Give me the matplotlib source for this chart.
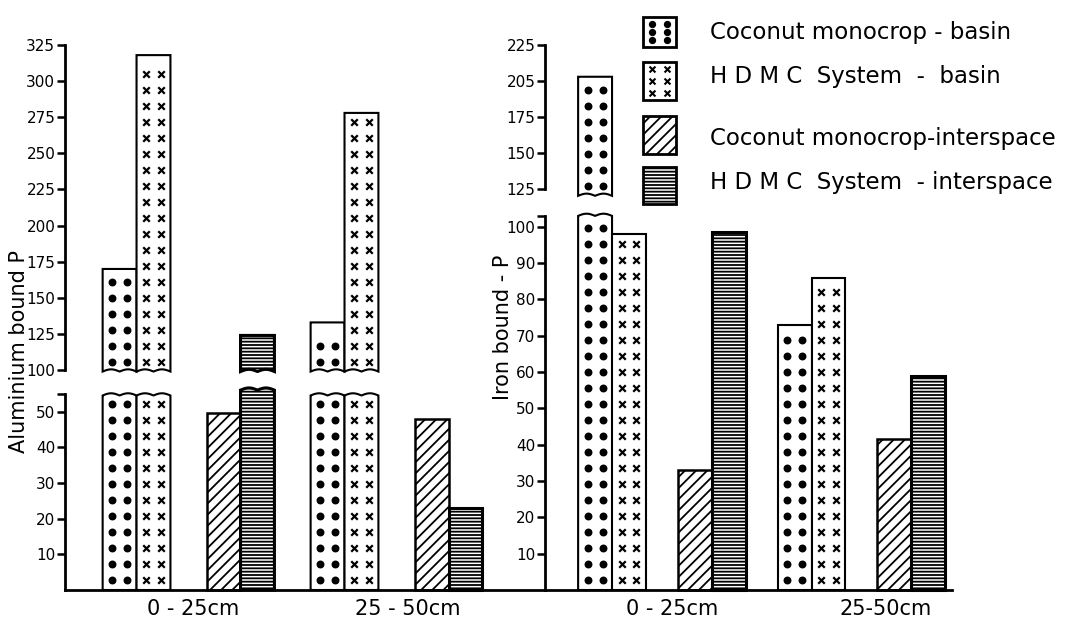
import numpy as np
import matplotlib.pyplot as plt
from matplotlib.patches import Rectangle
from matplotlib.transforms import blended_transform_factory

W, H = 1065, 642

depths_al = ['0 - 25cm', '25 - 50cm']
depths_fe = ['0 - 25cm', '25-50cm']
series = ['Coconut monocrop - basin', 'H D M C  System  -  basin',
          'Coconut monocrop-interspace', 'H D M C  System  - interspace']

# Aluminium bound P
al_coco_basin = [170, 133]
al_hdmc_basin = [318, 278]
al_coco_inter = [49.5, 48]
al_hdmc_inter = [124, 23]

# Iron bound P
fe_coco_basin = [203, 73]
fe_hdmc_basin = [98, 86]
fe_coco_inter = [33, 41.5]
fe_hdmc_inter = [98.5, 59]

al_low_ticks = [10, 20, 30, 40, 50]
al_up_ticks = [100, 125, 150, 175, 200, 225, 250, 275, 300, 325]
fe_low_ticks = [10, 20, 30, 40, 50, 60, 70, 80, 90, 100]
fe_up_ticks = [125, 150, 175, 200, 225]
fe_up_labels = ['125', '150', '175', '205', '225']

plt.rcParams['hatch.linewidth'] = 1.3
plt.rcParams['font.family'] = 'DejaVu Sans'

fig = plt.figure(figsize=(W / 100, H / 100), dpi=100)


def px_axes(x0, x1, y0, y1):
    return fig.add_axes([x0 / W, 1 - y1 / H, (x1 - x0) / W, (y1 - y0) / H])


def style(ax, ylim, bounds, ticks, labels, xlim, bottom):
    ax.set_xlim(xlim)
    ax.set_ylim(ylim)
    ax.patch.set_alpha(0)
    for s in ['top', 'right']:
        ax.spines[s].set_visible(False)
    ax.spines['bottom'].set_visible(bottom)
    ax.spines['bottom'].set_linewidth(2)
    ax.spines['left'].set_linewidth(2)
    ax.spines['left'].set_bounds(*bounds)
    ax.set_yticks(ticks)
    ax.set_yticklabels(labels)
    ax.set_xticks([])
    ax.tick_params(axis='y', direction='out', length=6, width=1.8, labelsize=11, pad=1)


def wavy_bar(ax, xc, w, y0, y1, upp, top_wave=False, bottom_wave=False, hatch=None, lw=1.5):
    xs = np.linspace(xc - w / 2, xc + w / 2, 80)
    wave = 2.2 * upp * np.abs(np.sin(2 * np.pi * (xs - xs[0]) / w))
    top = y1 + wave if top_wave else np.full_like(xs, y1)
    bot = y0 + wave if bottom_wave else np.full_like(xs, y0)
    px = np.concatenate([xs, xs[::-1]])
    py = np.concatenate([bot, top[::-1]])
    ax.fill(px, py, facecolor='white', edgecolor='black', lw=lw, hatch=hatch, clip_on=False, zorder=2)


def marks(ax, xc, w, y0, y1, upp, marker):
    ys = np.arange(y0 + 10 * upp, y1 - 8 * upp, 16 * upp)
    for dx in (-0.22 * w, 0.22 * w):
        if marker == 'o':
            ax.scatter(np.full_like(ys, xc + dx), ys, marker='o', s=22, color='black', zorder=3, clip_on=False)
        else:
            ax.scatter(np.full_like(ys, xc + dx), ys, marker='x', s=22, color='black', linewidths=1.6,
                       zorder=3, clip_on=False)


def panel(xpx, low_px, up_px, low_ylim, up_ylim, low_b, up_b, low_ticks, low_labels, up_ticks, up_labels,
          xlim, w, brk_low, brk_up, coco_b, hdmc_b, coco_i, hdmc_i, inter_brk_low):
    lo = px_axes(xpx[0], xpx[1], low_px[0], low_px[1])
    up = px_axes(xpx[0], xpx[1], up_px[0], up_px[1])
    style(lo, low_ylim, low_b, low_ticks, low_labels, xlim, True)
    style(up, up_ylim, up_b, up_ticks, up_labels, xlim, False)
    upp_lo = (low_ylim[1] - low_ylim[0]) / (low_px[1] - low_px[0])
    upp_up = (up_ylim[1] - up_ylim[0]) / (up_px[1] - up_px[0])
    for i in range(2):
        bc = i - 0.25
        ic = i + 0.25
        for xc, v, mk in [(bc - w / 2, coco_b[i], 'o'), (bc + w / 2, hdmc_b[i], 'x')]:
            if v > brk_up:
                wavy_bar(lo, xc, w, 0, brk_low, upp_lo, top_wave=True)
                marks(lo, xc, w, 0, brk_low, upp_lo, mk)
                wavy_bar(up, xc, w, brk_up, v, upp_up, bottom_wave=True)
                marks(up, xc, w, brk_up, v, upp_up, mk)
            else:
                wavy_bar(lo, xc, w, 0, v, upp_lo)
                marks(lo, xc, w, 0, v, upp_lo, mk)
        wavy_bar(lo, ic - w / 2, w, 0, coco_i[i], upp_lo, hatch='///', lw=1.8)
        v = hdmc_i[i]
        if v > brk_up:
            wavy_bar(lo, ic + w / 2, w, 0, inter_brk_low, upp_lo, top_wave=True, hatch='-----', lw=2.2)
            wavy_bar(up, ic + w / 2, w, brk_up, v, upp_up, bottom_wave=True, hatch='-----', lw=2.2)
        else:
            wavy_bar(lo, ic + w / 2, w, 0, v, upp_lo, hatch='-----', lw=2.2)
    return lo, up


# Aluminium panel
lo_al, up_al = panel((65, 545), (383, 590), (45, 373), (0, 58), (98, 325), (0, 55), (100, 325),
                     al_low_ticks + [55], [str(t) for t in al_low_ticks] + [''],
                     al_up_ticks, [str(t) for t in al_up_ticks],
                     (-0.594, 1.714), 0.163, 54.5, 99,
                     al_coco_basin, al_hdmc_basin, al_coco_inter, al_hdmc_inter, 56)

# Iron panel
lo_fe, up_fe = panel((545, 952), (205, 590), (45, 198), (0, 106), (119, 225), (0, 103), (125, 225),
                     fe_low_ticks + [103], [str(t) for t in fe_low_ticks] + [''],
                     fe_up_ticks, fe_up_labels,
                     (-0.586, 1.454), 0.17, 103, 120.5,
                     fe_coco_basin, fe_hdmc_basin, fe_coco_inter, fe_hdmc_inter, 103)

# category labels
for ax, labels, offs in [(lo_al, depths_al, [0.02, 0.055]), (lo_fe, depths_fe, [0.05, 0.12])]:
    tr = blended_transform_factory(ax.transData, fig.transFigure)
    for i, lab in enumerate(labels):
        ax.text(i + offs[i], 1 - 609 / H, lab, transform=tr, ha='center', va='center', fontsize=15)

fig.text(19 / W, 1 - 352 / H, 'Aluminium bound P', rotation=90, ha='center', va='center', fontsize=15)
fig.text(503 / W, 1 - 327 / H, 'Iron bound - P', rotation=90, ha='center', va='center', fontsize=15)

# legend
lg = px_axes(630, 1065, 0, 215)
lg.set_xlim(630, 1065)
lg.set_ylim(215, 0)
lg.axis('off')
boxes = [(17, 47), (62, 100), (116, 154), (167, 204)]
text_y = [33, 77, 139, 183]
for k, (y0, y1) in enumerate(boxes):
    hatch = [None, None, '///', '-----'][k]
    lg.add_patch(Rectangle((643, y0), 33, y1 - y0, facecolor='white', edgecolor='black',
                           lw=2, hatch=hatch))
    if k < 2:
        xs = np.array([652, 667])
        ys = np.linspace(y0 + 7, y1 - 7, 3)
        gx, gy = np.meshgrid(xs, ys)
        if k == 0:
            lg.scatter(gx.ravel(), gy.ravel(), marker='o', s=18, color='black')
        else:
            lg.scatter(gx.ravel(), gy.ravel(), marker='x', s=18, color='black', linewidths=1.5)
    lg.text(710, text_y[k], series[k], ha='left', va='center', fontsize=16.5)

fig.savefig('out.png', dpi=100)
